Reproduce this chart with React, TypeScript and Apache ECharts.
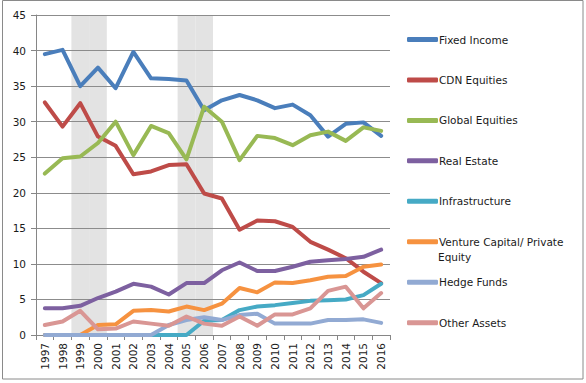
import React, { useEffect, useRef } from "react";
import * as echarts from "echarts";

const years = ["1997","1998","1999","2000","2001","2002","2003","2004","2005","2006","2007","2008","2009","2010","2011","2012","2013","2014","2015","2016"];
const seriesNames = ["Fixed Income","CDN Equities","Global Equities","Real Estate","Infrastructure","Venture Capital/ Private Equity","Hedge Funds","Other Assets"];
const fixedIncome = [39.5, 40.1, 35.0, 37.6, 34.7, 39.8, 36.1, 36.0, 35.8, 31.6, 33.0, 33.75, 33.0, 31.9, 32.4, 30.9, 27.9, 29.7, 29.9, 28.0];
const cdnEquities = [32.7, 29.3, 32.6, 27.9, 26.6, 22.6, 23.0, 23.9, 24.0, 19.9, 19.2, 14.8, 16.1, 16.0, 15.2, 13.1, 12.0, 10.8, 8.9, 7.3];
const globalEquities = [22.7, 24.85, 25.1, 27.0, 30.0, 25.3, 29.4, 28.4, 24.7, 32.1, 30.0, 24.6, 28.0, 27.7, 26.7, 28.1, 28.6, 27.3, 29.2, 28.7];
const realEstate = [3.75, 3.75, 4.1, 5.2, 6.1, 7.2, 6.8, 5.7, 7.3, 7.3, 9.1, 10.2, 9.0, 9.0, 9.6, 10.3, 10.5, 10.7, 11.0, 12.0];
const infrastructure = [0, 0, 0, 0, 0, 0, 0, 0, 0, 2.0, 2.1, 3.5, 4.0, 4.2, 4.5, 4.8, 4.9, 5.0, 5.6, 7.2];
const ventureCapital = [0, 0, 0, 1.4, 1.5, 3.4, 3.5, 3.3, 4.0, 3.5, 4.4, 6.6, 6.0, 7.4, 7.3, 7.7, 8.2, 8.3, 9.6, 9.9];
const hedgeFunds = [0, 0, 0, 0, 0, 0, 0, 1.4, 2.1, 2.5, 2.1, 2.8, 3.0, 1.6, 1.6, 1.6, 2.1, 2.1, 2.2, 1.7];
const otherAssets = [1.4, 1.9, 3.4, 0.8, 0.9, 1.9, 1.6, 1.3, 2.6, 1.6, 1.3, 2.6, 1.3, 2.9, 2.9, 3.75, 6.2, 6.8, 3.75, 5.9];
const shadedYears = ["1999", "2000", "2005", "2006"];
const yMax = 45;

const seriesData = [fixedIncome, cdnEquities, globalEquities, realEstate, infrastructure, ventureCapital, hedgeFunds, otherAssets];
const colors = ["#4A7EBB", "#BE4B48", "#98B954", "#7D60A0", "#46AAC5", "#F69240", "#92AAD3", "#D99694"];

const FONT = "DejaVu Sans";
const FS = 10.5;

export default function App() {
  const ref = useRef<HTMLDivElement>(null);
  useEffect(() => {
    if (!ref.current) return;
    const chart = echarts.init(ref.current, undefined, { renderer: "svg" });
    const bandData = years.map((y) => (shadedYears.includes(y) ? yMax : null));
    const legends = seriesNames.map((n, i) => ({
      show: true,
      orient: "vertical",
      left: 402,
      top: 40 + i * 40.45 - 11,
      itemWidth: 31,
      itemHeight: 5,
      selectedMode: false,
      data: [{ name: n, icon: "roundRect" }],
      formatter: (name: string) => (name === "Venture Capital/ Private Equity" ? "Venture Capital/ Private" : name),
      textStyle: { fontFamily: FONT, fontSize: FS, color: "#1a1a1a", padding: [0, 0, 0, -4] },
    }));
    const option: any = {
      animation: false,
      backgroundColor: "#ffffff",
      legend: legends,
      grid: { left: 36, right: 196, top: 15, bottom: 48, containLabel: false },
      xAxis: {
        type: "category",
        data: years,
        boundaryGap: true,
        z: 3,
        axisLine: { lineStyle: { color: "#868686", width: 1 } },
        axisTick: { show: true, length: 5, lineStyle: { color: "#868686" } },
        axisLabel: { rotate: 90, margin: 8, fontFamily: FONT, fontSize: FS, color: "#1a1a1a", interval: 0 },
        splitLine: { show: false },
      },
      yAxis: {
        type: "value",
        min: 0,
        max: yMax,
        interval: 5,
        z: 3,
        axisLine: { show: true, lineStyle: { color: "#868686" } },
        axisTick: { show: true, length: 5, lineStyle: { color: "#868686" } },
        axisLabel: { margin: 10, fontFamily: FONT, fontSize: FS, color: "#1a1a1a" },
        splitLine: { show: true, lineStyle: { color: "#8c8c8c", width: 1 } },
      },
      graphic: [
        { type: "rect", shape: { x: 2.5, y: 0.5, width: 580.5, height: 378.5 }, style: { fill: "none", stroke: "#8a8a8a", lineWidth: 1 }, z: 10, silent: true },
        { type: "text", left: 438, top: 251, style: { text: "Equity", fontFamily: FONT, fontSize: FS, fill: "#1a1a1a" }, z: 10, silent: true },
      ],
      series: [
        {
          type: "bar",
          name: "shade",
          data: bandData,
          barWidth: "100%",
          z: 1,
          silent: true,
          itemStyle: { color: "#e3e3e3" },
        },
        ...seriesNames.map((n, i) => ({
          type: "line",
          name: n,
          data: seriesData[i],
          showSymbol: false,
          symbol: "none",
          z: 5,
          color: colors[i],
          lineStyle: { width: 4, color: colors[i], cap: "round", join: "round" },
          itemStyle: { color: colors[i] },
        })),
      ],
    };
    chart.setOption(option);
    return () => chart.dispose();
  }, []);
  return <div ref={ref} style={{ position: "absolute", left: 0, top: 0, width: 586, height: 383 }} />;
}
